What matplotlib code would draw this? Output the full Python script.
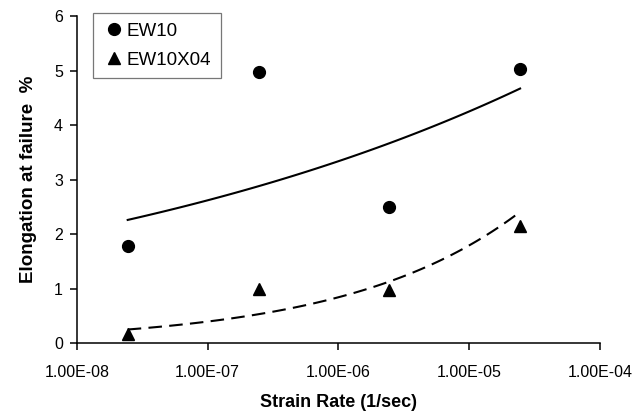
import numpy as np
import matplotlib
matplotlib.use('Agg')
import matplotlib.pyplot as plt
from matplotlib.ticker import FixedLocator, FuncFormatter, NullLocator

# strain rates (1/sec) and elongation at failure (%)
strain_rate = [2.45e-8, 2.45e-7, 2.45e-6, 2.45e-5]
ew10 = [1.78, 4.98, 2.50, 5.02]
ew10x04 = [0.17, 1.00, 0.97, 2.15]

x_ticks = [1e-8, 1e-7, 1e-6, 1e-5, 1e-4]
y_ticks = [0, 1, 2, 3, 4, 5, 6]

plt.rcParams['font.family'] = ['Liberation Sans', 'DejaVu Sans']

fig = plt.figure(figsize=(6.4, 4.12), dpi=100)
ax = fig.add_axes([0.12, 0.1675, 0.8175, 0.7935])


def power_fit(x, y):
    # Excel-style power trendline: y = a * x^b
    b, lna = np.polyfit(np.log(x), np.log(y), 1)
    xs = np.logspace(np.log10(x[0]), np.log10(x[-1]), 100)
    return xs, np.exp(lna) * xs ** b


xs, ys = power_fit(strain_rate, ew10)
ax.plot(xs, ys, color='black', lw=1.5)
xs, ys = power_fit(strain_rate, ew10x04)
ax.plot(xs, ys, color='black', lw=1.5, dashes=(6.5, 3.5))

ax.plot(strain_rate, ew10, 'o', color='black', ms=8.5, label='EW10')
ax.plot(strain_rate, ew10x04, '^', color='black', ms=9, label='EW10X04')

ax.set_xscale('log')
ax.set_xlim(1e-8, 1e-4)
ax.set_ylim(0, 6)
ax.xaxis.set_major_locator(FixedLocator(x_ticks))
ax.xaxis.set_minor_locator(NullLocator())
ax.xaxis.set_major_formatter(FuncFormatter(lambda v, p: '%.2E' % v))
ax.set_yticks(y_ticks)

for s in ['top', 'right']:
    ax.spines[s].set_visible(False)
for s in ['left', 'bottom']:
    ax.spines[s].set_linewidth(1.1)
ax.tick_params(labelsize=11.5, width=1.1, length=5)
ax.tick_params(axis='x', pad=11)
ax.tick_params(axis='y', pad=5)

ax.set_xlabel('Strain Rate (1/sec)', fontsize=13, fontweight='bold', labelpad=10)
ax.set_ylabel('Elongation at failure  %', fontsize=13.5, fontweight='bold', labelpad=12)

leg = ax.legend(loc='upper left', bbox_to_anchor=(0.031, 1.009), fontsize=13.5,
                frameon=True, fancybox=False, edgecolor='#555555', borderaxespad=0,
                handletextpad=0.1, handlelength=1.2, borderpad=0.5, labelspacing=0.65)
leg.get_frame().set_linewidth(0.9)

fig.savefig('out.png', dpi=100)
